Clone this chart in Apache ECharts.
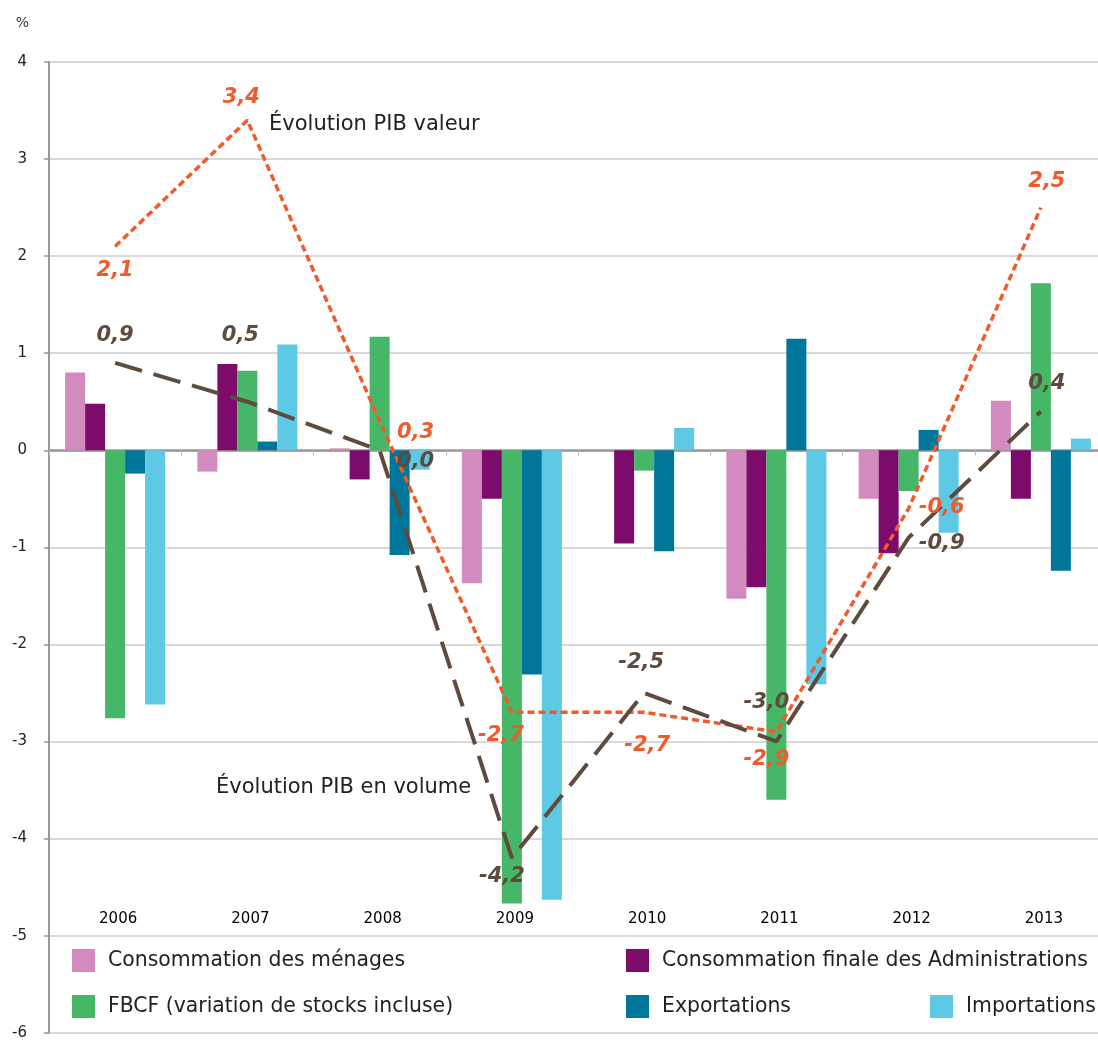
<!DOCTYPE html>
<html>
<head>
<meta charset="utf-8">
<script src="https://cdn.jsdelivr.net/npm/echarts@6/dist/echarts.min.js"></script>
<style>
  html, body { margin: 0; padding: 0; background: #fff; }
  #chart { width: 1098px; height: 1040px; }
</style>
</head>
<body>
<div id="chart"></div>
<script>
// Contributions à l'évolution du PIB (en %)
const years = ['2006', '2007', '2008', '2009', '2010', '2011', '2012', '2013'];
const yTicks = [-6, -5, -4, -3, -2, -1, 0, 1, 2, 3, 4];

const menages        = [0.80, -0.22, 0.02, -1.37, 0.00, -1.53, -0.50, 0.51];
const administrations = [0.48, 0.89, -0.30, -0.50, -0.96, -1.41, -1.06, -0.50];
const fbcf           = [-2.76, 0.82, 1.17, -4.67, -0.21, -3.60, -0.42, 1.72];
const exportations   = [-0.24, 0.09, -1.08, -2.31, -1.04, 1.15, 0.21, -1.24];
const importations   = [-2.62, 1.09, -0.20, -4.63, 0.23, -2.41, -0.85, 0.12];

const pibValeur = [2.1, 3.4, 0.3, -2.7, -2.7, -2.9, -0.6, 2.5];
const pibVolume = [0.9, 0.5, 0.0, -4.2, -2.5, -3.0, -0.9, 0.4];

// label offsets (px) from each line point
const valeurLabelOffsets = [[0, 24], [-6, -23], [36, 11], [-11, 23], [3, 33], [-10, 28], [33, -1], [6, -26]];
const volumeLabelOffsets = [[0, -27], [-7, -66], [36, 11], [-10, 19], [-3, -30], [-10, -39], [33, 6], [6, -28]];

const FONT = '"DejaVu Sans", sans-serif';
const fmt = v => v.toFixed(1).replace('.', ',');

const chart = echarts.init(document.getElementById('chart'), null, { renderer: 'canvas' });

function barSeries(name, data, color) {
  return {
    name, type: 'bar', data, xAxisIndex: 0, yAxisIndex: 0,
    barWidth: 20, barGap: '0%',
    itemStyle: { color },
    z: 2
  };
}

function lineSeries(name, data, color, dash, width, offsets) {
  return {
    name, type: 'line', xAxisIndex: 0, yAxisIndex: 0,
    data: data.map((v, i) => ({
      value: v,
      label: { offset: offsets[i] }
    })),
    symbol: 'circle', symbolSize: 1,
    itemStyle: { color: 'rgba(0,0,0,0)' },
    lineStyle: { color, width, type: dash, cap: 'butt' },
    label: {
      show: true, position: 'inside',
      formatter: p => fmt(p.value),
      color, fontFamily: FONT, fontSize: 21, fontWeight: 'bold', fontStyle: 'italic'
    },
    z: 5
  };
}

function legendItem(name, left, top) {
  return {
    data: [name], left, top, padding: 0,
    icon: 'rect', itemWidth: 23, itemHeight: 23,
    selectedMode: false,
    textStyle: { fontFamily: FONT, fontSize: 20.4, color: '#222', padding: [0, 0, 0, 8] }
  };
}

const option = {
  animation: false,
  backgroundColor: '#fff',
  grid: { left: 49, top: 62, width: 1058, height: 970.7, containLabel: false, outerBoundsMode: 'none' },
  xAxis: [
    {
      type: 'category', data: years, position: 'bottom',
      axisLine: { show: true, onZero: true, lineStyle: { color: '#999', width: 2.5 } },
      axisTick: { show: true, length: 5, lineStyle: { color: '#bbb', width: 1 } },
      axisLabel: { show: false },
      splitLine: { show: false }
    },
    {
      type: 'category', data: years, position: 'bottom', offset: -127,
      axisLine: { show: false, onZero: false },
      axisTick: { show: false },
      axisLabel: { show: true, margin: 6, padding: [0, 0, 0, 6], fontFamily: FONT, fontSize: 15, color: '#000' },
      splitLine: { show: false }
    }
  ],
  yAxis: {
    type: 'value', min: yTicks[0], max: yTicks[yTicks.length - 1], interval: 1,
    name: '%', nameLocation: 'end', nameGap: 32,
    nameTextStyle: { fontFamily: FONT, fontSize: 14, color: '#333', align: 'right', padding: [0, 20, 0, 0] },
    axisLine: { show: true, lineStyle: { color: '#999', width: 2 } },
    axisTick: { show: true, inside: false, length: 5, lineStyle: { color: '#999', width: 1.5 } },
    axisLabel: { margin: 22, fontFamily: FONT, fontSize: 15, color: '#222', formatter: v => String(v) },
    splitLine: { show: true, lineStyle: { color: '#d9d9d9', width: 2 } }
  },
  legend: [
    legendItem('Consommation des ménages', 72, 949),
    legendItem('Consommation finale des Administrations', 626, 949),
    legendItem('FBCF (variation de stocks incluse)', 72, 995),
    legendItem('Exportations', 626, 995),
    legendItem('Importations', 930, 995)
  ],
  series: [
    barSeries('Consommation des ménages', menages, '#d38bbf'),
    barSeries('Consommation finale des Administrations', administrations, '#7d0b6b'),
    barSeries('FBCF (variation de stocks incluse)', fbcf, '#45b767'),
    barSeries('Exportations', exportations, '#00769a'),
    barSeries('Importations', importations, '#5dc9e5'),
    lineSeries('Évolution PIB valeur', pibValeur, '#f15a2b', [7, 4], 3.5, valeurLabelOffsets),
    lineSeries('Évolution PIB en volume', pibVolume, '#5f4b3e', [28, 12], 4, volumeLabelOffsets)
  ],
  graphic: [
    {
      type: 'text', left: 269, top: 114, z: 10,
      style: { text: 'Évolution PIB valeur', font: '21px ' + FONT, fill: '#222' }
    },
    {
      type: 'text', left: 216, top: 777, z: 10,
      style: { text: 'Évolution PIB en volume', font: '21px ' + FONT, fill: '#222' }
    }
  ]
};

chart.setOption(option);
</script>
</body>
</html>
